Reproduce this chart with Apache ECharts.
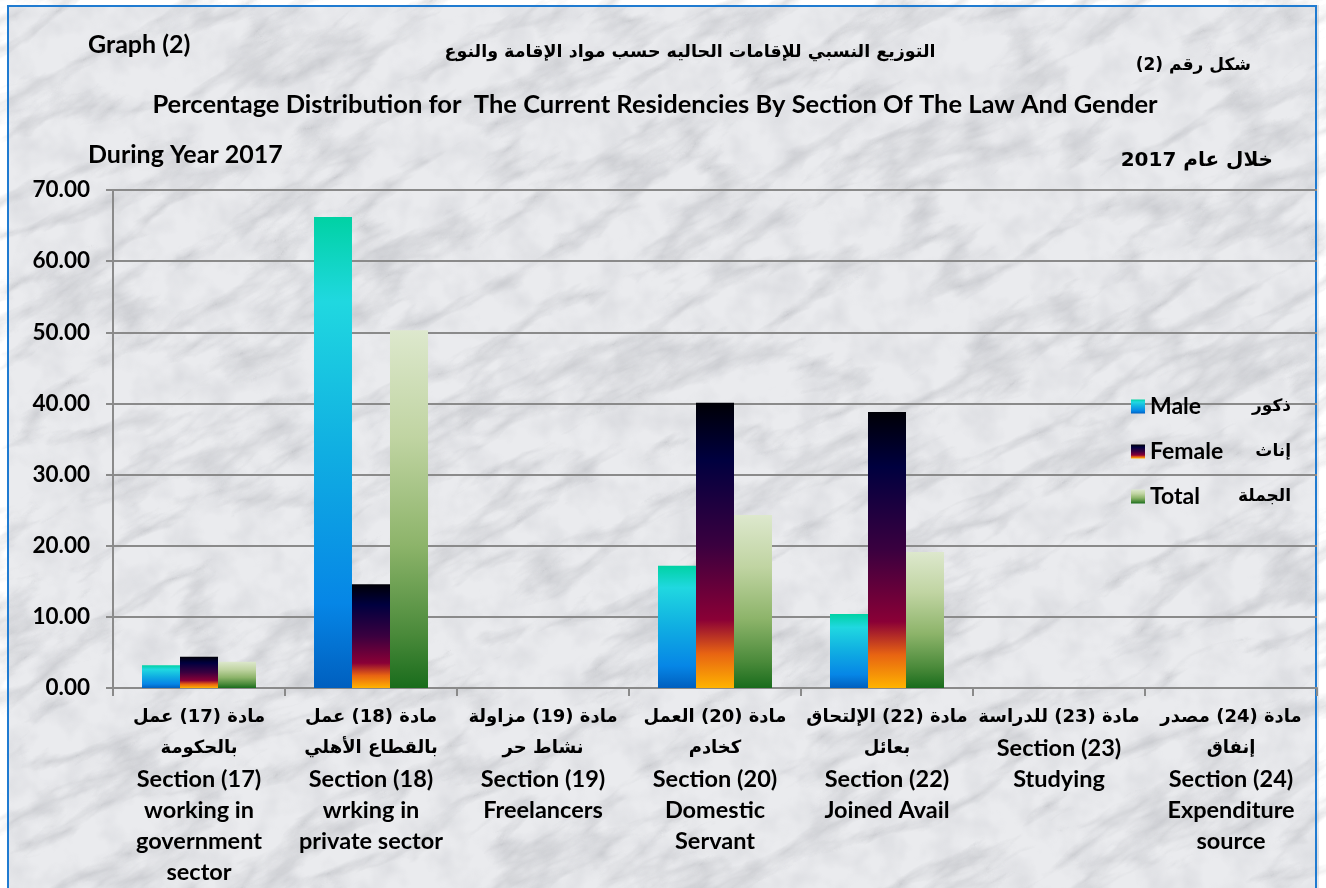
<!DOCTYPE html>
<html>
<head>
<meta charset="utf-8">
<script src="https://cdn.jsdelivr.net/npm/echarts@6/dist/echarts.min.js"></script>
<style>
html,body{margin:0;padding:0;width:1326px;height:888px;overflow:hidden;background:#fff;}
#bg{position:absolute;left:0;top:0;width:1326px;height:888px;}
#frame{position:absolute;left:7px;top:5px;width:1310px;height:900px;border:2px solid #1f7bd1;box-sizing:border-box;}
#chart{position:absolute;left:0;top:0;width:1326px;height:888px;}
</style>
</head>
<body>
<svg id="bg" xmlns="http://www.w3.org/2000/svg" width="1326" height="888">
  <defs>
    <filter id="marble" x="0" y="0" width="100%" height="100%">
      <feTurbulence type="turbulence" baseFrequency="0.006 0.018" numOctaves="5" seed="7" result="t"/>
      <feColorMatrix in="t" type="matrix" values="0 0 0 0 0.40  0 0 0 0 0.41  0 0 0 0 0.44  -2.4 0 0 0 0.7"/>
    </filter>
    <filter id="mottle" x="0" y="0" width="100%" height="100%">
      <feTurbulence type="fractalNoise" baseFrequency="0.03" numOctaves="3" seed="2" result="f"/>
      <feColorMatrix in="f" type="matrix" values="0 0 0 0 0.5  0 0 0 0 0.51  0 0 0 0 0.55  0 0 -1.6 0 0.95"/>
    </filter>
  </defs>
  <rect x="7" y="5" width="1312" height="900" fill="#eaebee"/>
  <rect x="7" y="5" width="1312" height="900" filter="url(#mottle)" opacity="0.4"/>
  <g transform="rotate(-28 663 444)">
    <rect x="-300" y="-400" width="1926" height="1700" filter="url(#marble)" opacity="0.6"/>
  </g>
</svg>
<div id="frame"></div>
<div id="chart"></div>
<script>
// ---- data ----
const categories = ['Section (17)', 'Section (18)', 'Section (19)', 'Section (20)', 'Section (22)', 'Section (23)', 'Section (24)'];
const categoryArabic = [
  'مادة (17) عمل\nبالحكومة',
  'مادة (18) عمل\nبالقطاع الأهلي',
  'مادة (19) مزاولة\nنشاط حر',
  'مادة (20) العمل\nكخادم',
  'مادة (22) الإلتحاق\nبعائل',
  'مادة (23) للدراسة',
  'مادة (24) مصدر\nإنفاق'
];
const categoryEnglish = [
  'working in\ngovernment\nsector',
  'wrking in\nprivate sector',
  'Freelancers',
  'Domestic\nServant',
  'Joined Avail',
  'Studying',
  'Expenditure\nsource'
];
const maleValues   = [3.2, 66.2, 0, 17.2, 10.4, 0, 0];
const femaleValues = [4.4, 14.6, 0, 40.1, 38.8, 0, 0];
const totalValues  = [3.7, 50.3, 0, 24.3, 19.1, 0, 0];
const seriesNames  = ['Male', 'Female', 'Total'];
const seriesArabic = ['ذكور', 'إناث', 'الجملة'];
const yMin = 0, yMax = 70, yInterval = 10;

// ---- chart ----
const RLM = '\u200F';
const ar = s => RLM + s + RLM;
const EN_FONT = 'Lato, "Open Sans", sans-serif';
const AR_FONT = '"DejaVu Sans", sans-serif';
const G = echarts.graphic.LinearGradient;

const colors = [
  new G(0, 0, 0, 1, [
    {offset: 0, color: '#00d2a4'}, {offset: 0.18, color: '#20d8e0'},
    {offset: 0.5, color: '#10aee2'}, {offset: 0.82, color: '#0686e6'}, {offset: 1, color: '#005fbf'}]),
  new G(0, 0, 0, 1, [
    {offset: 0, color: '#000006'}, {offset: 0.2, color: '#00003f'},
    {offset: 0.5, color: '#3a003f'}, {offset: 0.76, color: '#8a0036'},
    {offset: 0.88, color: '#e86412'}, {offset: 1, color: '#ffb300'}]),
  new G(0, 0, 0, 1, [
    {offset: 0, color: '#dde8cd'}, {offset: 0.3, color: '#c0d4a2'},
    {offset: 0.6, color: '#8db46a'}, {offset: 0.85, color: '#4a8a3a'}, {offset: 1, color: '#196c1c'}])
];
const valueSets = [maleValues, femaleValues, totalValues];

const chart = echarts.init(document.getElementById('chart'), null, {renderer: 'canvas'});
const option = {
  animation: false,
  backgroundColor: 'transparent',
  grid: {left: 113, right: 9, top: 190, bottom: 200},
  legend: {
    orient: 'vertical', left: 1126, top: 390,
    itemWidth: 14, itemHeight: 14, itemGap: 22,
    icon: 'rect',
    data: seriesNames,
    formatter: name => '{en|' + name + '}{ar|' + ar(seriesArabic[seriesNames.indexOf(name)]) + '}',
    textStyle: {
      rich: {
        en: {fontFamily: EN_FONT, fontWeight: 'bold', fontSize: 23, color: '#000', width: 96, lineHeight: 20},
        ar: {fontFamily: AR_FONT, fontWeight: 'bold', fontSize: 17, color: '#000', width: 45, align: 'right', lineHeight: 20}
      }
    }
  },
  xAxis: {
    type: 'category',
    data: categories,
    axisLine: {lineStyle: {color: '#8a8a8a', width: 2}},
    axisTick: {show: true, length: 8, lineStyle: {color: '#8a8a8a', width: 2}},
    axisLabel: {
      interval: 0, margin: 14,
      formatter: (v, i) => {
        const lines = [];
        categoryArabic[i].split('\n').forEach(l => lines.push('{ar|' + ar(l) + '}'));
        lines.push('{en|' + v + '}');
        categoryEnglish[i].split('\n').forEach(l => lines.push('{en|' + l + '}'));
        return lines.join('\n');
      },
      rich: {
        ar: {fontFamily: AR_FONT, fontWeight: 'bold', fontSize: 18, color: '#000', lineHeight: 31},
        en: {fontFamily: EN_FONT, fontWeight: 'bold', fontSize: 23.5, color: '#000', lineHeight: 31}
      }
    }
  },
  yAxis: {
    type: 'value', min: yMin, max: yMax, interval: yInterval,
    axisLine: {show: true, lineStyle: {color: '#8a8a8a', width: 2}},
    axisTick: {show: true, length: 7, lineStyle: {color: '#8a8a8a', width: 2}},
    splitLine: {lineStyle: {color: '#8a8a8a', width: 2}},
    axisLabel: {
      margin: 23, formatter: v => v.toFixed(2),
      fontFamily: EN_FONT, fontWeight: 'bold', fontSize: 22.5, color: '#000'
    }
  },
  series: seriesNames.map((n, k) => ({
    name: n, type: 'bar', data: valueSets[k],
    barWidth: 38, barGap: '0%',
    itemStyle: {color: colors[k]}
  })),
  graphic: [
    {type: 'text', x: 88, y: 45, style: {text: 'Graph (2)', font: 'bold 25px ' + EN_FONT, fill: '#000', textAlign: 'left', textVerticalAlign: 'middle'}},
    {type: 'text', x: 690, y: 52, style: {text: ar('التوزيع النسبي للإقامات الحاليه حسب مواد الإقامة والنوع'), font: 'bold 17.5px ' + AR_FONT, fill: '#000', textAlign: 'center', textVerticalAlign: 'middle'}},
    {type: 'text', x: 1251, y: 66, style: {text: ar('شكل رقم (2)'), font: 'bold 17px ' + AR_FONT, fill: '#000', textAlign: 'right', textVerticalAlign: 'middle'}},
    {type: 'text', x: 655, y: 105, style: {text: 'Percentage Distribution for  The Current Residencies By Section Of The Law And Gender', font: 'bold 25.5px ' + EN_FONT, fill: '#000', textAlign: 'center', textVerticalAlign: 'middle'}},
    {type: 'text', x: 88, y: 155, style: {text: 'During Year 2017', font: 'bold 25px ' + EN_FONT, fill: '#000', textAlign: 'left', textVerticalAlign: 'middle'}},
    {type: 'text', x: 1273, y: 161, style: {text: ar('خلال عام 2017'), font: 'bold 20px ' + AR_FONT, fill: '#000', textAlign: 'right', textVerticalAlign: 'middle'}}
  ]
};
chart.setOption(option);
</script>
</body>
</html>
